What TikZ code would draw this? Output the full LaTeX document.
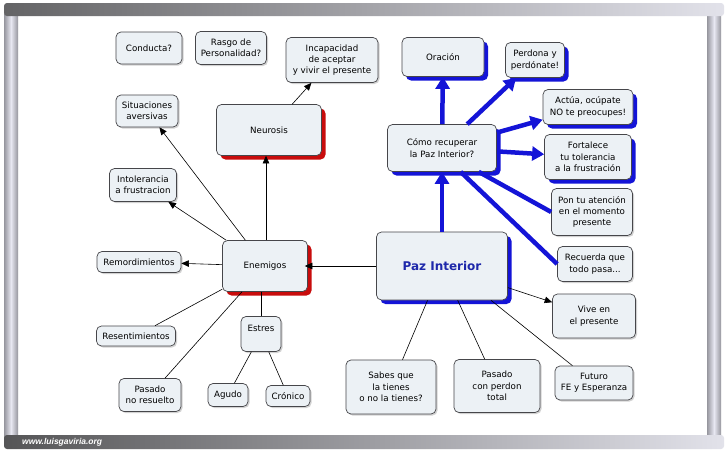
\documentclass[tikz,border=0pt]{standalone}
\usepackage{fontspec}
\setmainfont{DejaVu Sans}
\newfontfamily\footfont{Liberation Sans}
\usetikzlibrary{arrows.meta,shadows}

\definecolor{boxfill}{RGB}{236,241,245}
\definecolor{boxline}{RGB}{70,70,74}
\definecolor{bluearr}{RGB}{20,20,215}
\definecolor{redsh}{RGB}{200,12,12}
\definecolor{pazblue}{RGB}{30,40,170}
\definecolor{frdark}{RGB}{100,100,102}
\definecolor{frlight}{RGB}{226,226,234}
\definecolor{frmid}{RGB}{150,150,158}
\definecolor{frcen}{RGB}{232,232,242}

\tikzset{
  basebox/.style={draw=boxline, line width=0.7pt, fill=boxfill, rounded corners=5pt,
    align=center, font=\fontsize{8.7}{11.3}\selectfont, inner sep=2pt},
  cbox/.style={basebox, drop shadow={shadow xshift=1.5pt, shadow yshift=-1.5pt, fill=gray, opacity=0.35}},
  redbox/.style={basebox, drop shadow={shadow xshift=4pt, shadow yshift=-4pt, fill=redsh, opacity=1}},
  bluebox/.style={basebox, drop shadow={shadow xshift=4pt, shadow yshift=-4pt, fill=bluearr, opacity=1}},
  sz/.style 2 args={minimum width=#1pt, minimum height=#2pt},
  arr/.style={line width=0.6pt, -{Triangle[length=7.5pt,width=6.5pt]}},
  ln/.style={line width=0.6pt},
  barr/.style={draw=bluearr, line width=4.5pt, -{Triangle[length=12pt,width=14pt]}},
  bln/.style={draw=bluearr, line width=4.5pt}
}

\begin{document}
\begin{tikzpicture}[x=1pt,y=-1pt]
\useasboundingbox (0,0) rectangle (728,455);
\fill[white] (0,0) rectangle (728,455);

% frame
\shade[left color=frmid, right color=frmid, middle color=frcen] (4,14) rectangle (18,437);
\shade[left color=frmid, right color=frmid, middle color=frcen] (707,14) rectangle (721,437);
\shade[left color=frdark, right color=frlight, rounded corners=3pt] (4,3) rectangle (724,16);
\shade[left color=frdark!85!black, right color=frlight, rounded corners=3pt] (4,435) rectangle (724,449);
\node[anchor=west, text=white, font=\footfont\bfseries\itshape\fontsize{8.5}{10}\selectfont, inner sep=0pt] (web) at (22,442) {www.luisgaviria.org};

% nodes
\node[cbox, sz={66}{32}] (conducta) at (149,48) {Conducta?};
\node[cbox, sz={71}{33}] (rasgo) at (231,48) {Rasgo de\\Personalidad?};
\node[cbox, sz={92}{45}] (incap) at (332,60) {Incapacidad\\de aceptar\\y vivir el presente};
\node[cbox, sz={62}{32}] (situ) at (147,111) {Situaciones\\aversivas};
\node[redbox, sz={105}{51}] (neurosis) at (269,130) {Neurosis};
\node[cbox, sz={67}{33}] (intol) at (143,185) {Intolerancia\\a frustracion};
\node[cbox, sz={84}{21}] (remord) at (139,262) {Remordimientos};
\node[redbox, sz={85}{51}] (enemigos) at (265,266) {Enemigos};
\node[cbox, sz={79}{20}] (resent) at (136,336) {Resentimientos};
\node[cbox, sz={40}{35}] (estres) at (261,334) {Estres\\\phantom{E}};
\node[cbox, sz={62}{33}] (pasadonr) at (150,395) {Pasado\\no resuelto};
\node[cbox, sz={40}{23}] (agudo) at (228,395) {Agudo};
\node[cbox, sz={44}{21}] (cronico) at (288,396) {Crónico};

\node[bluebox, sz={82}{39}] (oracion) at (443,57) {Oración};
\node[bluebox, sz={59}{35}] (perdona) at (535,60) {Perdona y\\perdónate!};
\node[bluebox, sz={90}{35}] (actua) at (588,107) {Actúa, ocúpate\\NO te preocupes!};
\node[bluebox, sz={87}{45}] (fortalece) at (588,157) {Fortalece\\tu tolerancia\\a la frustración};
\node[bluebox, sz={109}{47}] (como) at (442,148) {Cómo recuperar\\la Paz Interior?};
\node[cbox, sz={81}{47}] (pon) at (592,212) {Pon tu atención\\en el momento\\presente};
\node[cbox, sz={75}{35}] (recuerda) at (595,264) {Recuerda que\\todo pasa...};
\node[bluebox, sz={131}{68}, font=\fontsize{12}{14}\selectfont\bfseries, text=pazblue] (paz) at (442,266) {Paz Interior};
\node[cbox, sz={83}{44}] (vive) at (594,316) {Vive en\\el presente};
\node[cbox, sz={90}{54}] (sabes) at (391,387) {Sabes que\\la tienes\\o no la tienes?};
\node[cbox, sz={86}{53}] (pasadocp) at (497,386) {Pasado\\con perdon\\total};
\node[cbox, sz={78}{34}] (futuro) at (594,383) {Futuro\\FE y Esperanza};

% black connectors
\draw[arr, shorten >=-3pt] (paz) -- (enemigos);
\draw[arr] (enemigos.north -| 266,0) -- (neurosis.south -| 266,0);
\draw[arr] (neurosis) -- (incap);
\draw[arr] (enemigos) -- (situ);
\draw[arr] (enemigos) -- (intol);
\draw[arr] (enemigos) -- (remord);
\draw[ln] (enemigos) -- (resent);
\draw[ln] (enemigos) -- (pasadonr);
\draw[ln] (enemigos.south -| estres.north) -- (estres.north);
\draw[ln] (estres) -- (agudo);
\draw[ln] (estres) -- (cronico);
\draw[arr] (paz) -- (vive);
\draw[ln] (paz) -- (sabes);
\draw[ln] (paz) -- (pasadocp);
\draw[ln] (paz.-35) -- (futuro);

% blue connectors
\draw[barr] (paz) -- (como);
\draw[barr] (como) -- (oracion);
\draw[barr] (como) -- (perdona);
\draw[barr] (como) -- (actua);
\draw[barr] (como) -- (fortalece);
\draw[bln] (como.-33) -- (pon.west);
\draw[bln] (como.-52) -- (recuerda.west);
\end{tikzpicture}
\end{document}
